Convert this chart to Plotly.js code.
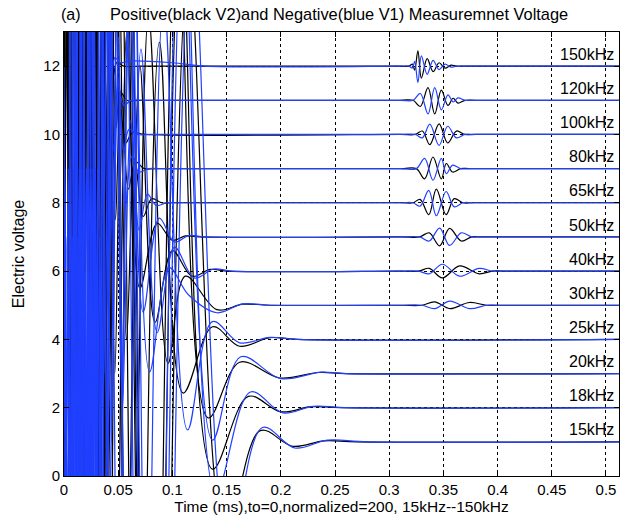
<!DOCTYPE html>
<html>
<head>
<meta charset="utf-8">
<script src="https://cdn.plot.ly/plotly-3.0.1.min.js"></script>
<style>html,body{margin:0;padding:0;background:#fff;}#chart{width:621px;height:523px;}</style>
</head>
<body>
<div id="chart"></div>
<script>
// ---- labels / baselines ----
const freqLabels = ['15kHz','18kHz','20kHz','25kHz','30kHz','40kHz','50kHz','65kHz','80kHz','100kHz','120kHz','150kHz'];
const baselines  = [1,2,3,4,5,6,7,8,9,10,11,12];
const xTicks = [0,0.05,0.1,0.15,0.2,0.25,0.3,0.35,0.4,0.45,0.5];
const xTickText = ['0','0.05','0.1','0.15','0.2','0.25','0.3','0.35','0.4','0.45','0.5'];
const yTicks = [0,2,4,6,8,10,12];

// ---- early crosstalk / ringing (time ms, deviation from baseline) ----
// 15 kHz
const tK15 = [0,0.016,0.049,0.082,0.115,0.149,0.181,0.211,0.24,0.27];
const vK15 = [0,-28,28,-26,14,-2.8,0.33,-0.13,0.03,0];
const tB15 = [0,0.0015,0.004,0.0065,0.009,0.0115,0.014,0.0165,0.019,0.0215,0.024,0.0265,0.029,0.0315,0.034,0.0365,0.052,0.085,0.118,0.152,0.183,0.213,0.243,0.28];
const vB15 = [0,-5,5,-5,5,-5,5,-5,5,-5,5,-5,5,-5,5,-8,28,-26,15,-3.2,0.42,-0.18,0.05,0];
// 18 kHz
const tK18 = [0,0.024,0.052,0.08,0.108,0.137,0.17,0.2,0.228,0.255];
const vK18 = [0,-26,27,-24,14,-1.8,0.33,-0.12,0.03,0];
const tB18 = [0,0.0027,0.0052,0.0077,0.0102,0.0127,0.0152,0.0177,0.0202,0.0227,0.0252,0.0277,0.0302,0.0327,0.0352,0.055,0.083,0.111,0.14,0.172,0.202,0.23,0.26];
const vB18 = [0,5,-5,5,-5,5,-5,5,-5,5,-5,5,-5,5,-10,27,-24,15,-2.5,0.46,-0.15,0.04,0];
// 20 kHz
const tK20 = [0,0.005,0.03,0.055,0.08,0.105,0.133,0.162,0.199,0.235,0.26];
const vK20 = [0,25,-26,26,-22,14,-1.3,0.33,-0.13,0.03,0];
const tB20 = [0,0.0008,0.0033,0.0058,0.0083,0.0108,0.0133,0.0158,0.0183,0.0208,0.0233,0.0258,0.0283,0.0308,0.0333,0.058,0.083,0.108,0.137,0.163,0.2,0.237,0.26];
const vB20 = [0,6,-6,6,-6,6,-6,6,-6,6,-6,6,-6,6,-26,26,-22,15,-1.95,0.49,-0.15,0.04,0];
// 25 kHz
const tK25 = [0,0.008,0.028,0.048,0.068,0.088,0.11,0.137,0.162,0.19,0.215];
const vK25 = [0,24,-24,23,-18,8.7,-1.57,0.37,-0.2,0.05,0];
const tB25 = [0,0.0015,0.004,0.0065,0.009,0.0115,0.014,0.0165,0.019,0.0215,0.024,0.0265,0.029,0.032,0.052,0.072,0.092,0.114,0.137,0.162,0.19,0.215];
const vB25 = [0,-5,5,-5,5,-5,5,-5,5,-5,5,-5,5,-24,23,-19,10,-2.65,0.52,-0.1,0.06,0];
// 30 kHz
const tK30 = [0,0.01,0.027,0.044,0.061,0.078,0.096,0.112,0.141,0.165,0.19];
const vK30 = [0,22,-22,21,-16,8.5,-1.7,0.85,-0.13,0.03,0];
const tB30 = [0,0.013,0.03,0.046,0.063,0.079,0.097,0.115,0.141,0.165,0.19];
const vB30 = [0,-22,22,-21,14,-1.95,1.1,0.3,-0.22,0.04,0];
// 40 kHz
const tK40 = [0,0.0075,0.02,0.032,0.045,0.057,0.07,0.084,0.1,0.118,0.135,0.15];
const vK40 = [0,-20,20,-20,18,-12,6,-1.5,0.6,-0.15,0.05,0];
const tB40 = [0,0.009,0.021,0.034,0.046,0.058,0.071,0.086,0.102,0.12,0.138,0.155];
const vB40 = [0,-20,20,-19,17,-11,6.5,-1.8,0.7,-0.2,0.06,0];
// 50 kHz
const tK50 = [0,0.008,0.018,0.028,0.038,0.048,0.058,0.07,0.086,0.1,0.112,0.125];
const vK50 = [0,-19,19,-19,18,-14,6,-1.5,0.4,-0.1,0.03,0];
const tB50 = [0,0.01,0.02,0.03,0.04,0.05,0.061,0.073,0.088,0.102,0.115,0.13];
const vB50 = [0,-19,19,-18,17,-12,7,-2.2,0.55,-0.15,0.04,0];
// 65 kHz
const tK65 = [0,0.0038,0.0115,0.0192,0.0269,0.0346,0.0423,0.05,0.0577,0.0654,0.0731,0.081,0.09,0.1];
const vK65 = [0,18,-18,18,-17,16,-14,9,-4,1.3,-0.4,0.12,0,0];
const tB65 = [0,0.0077,0.0154,0.0231,0.0308,0.0385,0.0462,0.0539,0.0616,0.0693,0.077,0.085,0.095,0.105];
const vB65 = [0,-18,18,-17,16,-14,11,-6,2.4,-0.8,0.25,-0.08,0,0];
// 80 kHz
const tK80 = [0,0.003,0.0094,0.0156,0.0219,0.0281,0.0344,0.0406,0.0469,0.0531,0.0594,0.066,0.074,0.085];
const vK80 = [0,17,-17,17,-16,16,-14,11,-6,2.2,-0.6,0.2,0,0];
const tB80 = [0,0.0062,0.0125,0.0187,0.025,0.0312,0.0375,0.0437,0.05,0.0562,0.0625,0.069,0.078,0.09];
const vB80 = [0,-17,17,-16,16,-15,12,-8,3.5,-1.2,0.35,-0.1,0,0];
// 100 kHz
const tK100 = [0,0.0025,0.0075,0.0125,0.0175,0.0225,0.0275,0.0325,0.0375,0.0425,0.0475,0.052,0.057,0.063,0.075];
const vK100 = [0,16,-16,16,-16,15,-15,13,-11,6,-2.5,0.8,-0.25,0.05,0];
const tB100 = [0,0.005,0.01,0.015,0.02,0.025,0.03,0.035,0.04,0.045,0.05,0.055,0.06,0.068,0.08];
const vB100 = [0,-16,16,-16,16,-15,14,-12,9,-4,1.6,-0.5,0.15,0,0];
// 120 kHz
const tK120 = [0,0.002,0.0062,0.0104,0.0146,0.0188,0.023,0.0272,0.0314,0.0356,0.0398,0.044,0.048,0.052,0.058,0.07];
const vK120 = [0,15,-15,15,-15,15,-14,14,-12,10,-6,2.5,-0.8,0.25,0,0];
const tB120 = [0,0.0041,0.0083,0.0125,0.0167,0.0209,0.0251,0.0293,0.0335,0.0377,0.0419,0.046,0.05,0.055,0.062,0.075];
const vB120 = [0,-15,15,-15,15,-15,14,-13,11,-8,4,-1.5,0.5,-0.15,0,0];
// 150 kHz
const tK150 = [0,0.0017,0.005,0.0083,0.0117,0.015,0.0183,0.0217,0.025,0.0283,0.0317,0.035,0.0383,0.0417,0.045,0.049,0.055,0.07];
const vK150 = [0,14,-16,16,-16,16,-16,15,-15,13,-12,7,-3,1.0,-0.35,0.12,0,0];
const tB150 = [0,0.0033,0.0067,0.01,0.0133,0.0167,0.02,0.0233,0.0267,0.03,0.0333,0.0367,0.04,0.0433,0.047,0.052,0.06,0.1,0.13];
const vB150 = [0,-16,16,-16,16,-16,16,-15,14,-12,9,-5,2,-0.7,0.25,0.1,0.15,0.1,0];

// ---- received wave packets (time ms, black dev, blue dev) ----
const tP30  = [0.31,0.33,0.342,0.356,0.374,0.39,0.4];
const kP30  = [0,0,0.1,-0.1,0.08,0,0];
const bP30  = [0,0,-0.1,0.12,-0.1,0,0];
const tP40  = [0.31,0.327,0.337,0.349,0.365,0.383,0.395,0.405];
const kP40  = [0,0,0.08,-0.2,0.15,-0.08,0,0];
const bP40  = [0,0,-0.08,0.2,-0.15,0.08,0,0];
const tP50  = [0.31,0.328,0.337,0.3465,0.3557,0.3665,0.376,0.385];
const kP50  = [0,0,0.12,-0.26,0.25,-0.12,0,0];
const bP50  = [0,0,-0.12,0.26,-0.25,0.12,0,0];
const tP65  = [0.31,0.322,0.3285,0.3365,0.3435,0.3525,0.36,0.368,0.378];
const kP65  = [0,0,0.1,-0.35,0.4,-0.35,0.12,0,0];
const bP65  = [0,0,-0.1,0.36,-0.38,0.33,-0.12,0,0];
const tP80  = [0.31,0.325,0.3327,0.3404,0.3481,0.3527,0.3585,0.366,0.375];
const kP80  = [0,0,-0.3,0.34,-0.3,0.15,-0.1,0,0];
const bP80  = [0,0,0.3,-0.34,0.3,-0.15,0.1,0,0];
const tP100 = [0.31,0.324,0.3306,0.3375,0.346,0.354,0.362,0.37,0.38];
const kP100 = [0,0,0.1,-0.3,0.31,-0.25,0.1,0,0];
const bP100 = [0,0,-0.1,0.3,-0.32,0.24,-0.1,0,0];
const tP120 = [0.31,0.322,0.3287,0.3358,0.342,0.3481,0.3542,0.359,0.3634,0.37,0.38];
const kP120 = [0,0,-0.18,0.37,-0.4,0.3,-0.15,0.06,-0.08,0,0];
const bP120 = [0,0,0.2,-0.4,0.37,-0.28,0.16,-0.05,0.07,0,0];
const tP150 = [0.31,0.318,0.3215,0.3235,0.3265,0.3297,0.335,0.3405,0.346,0.3515,0.357,0.362,0.37];
const kP150 = [0,0,0.06,-0.12,0.45,-0.35,0.22,-0.16,0.1,-0.06,0.03,0,0];
const bP150 = [0,0,-0.05,0.14,-0.48,0.3,-0.24,0.17,-0.1,0.06,-0.03,0,0];
const tEnd = [0.512];
const vEnd = [0];

const rows = [
  {tk:tK15, vk:vK15, tb:tB15, vb:vB15, tp:[], kp:[], bp:[]},
  {tk:tK18, vk:vK18, tb:tB18, vb:vB18, tp:[], kp:[], bp:[]},
  {tk:tK20, vk:vK20, tb:tB20, vb:vB20, tp:[], kp:[], bp:[]},
  {tk:tK25, vk:vK25, tb:tB25, vb:vB25, tp:[], kp:[], bp:[]},
  {tk:tK30, vk:vK30, tb:tB30, vb:vB30, tp:tP30, kp:kP30, bp:bP30},
  {tk:tK40, vk:vK40, tb:tB40, vb:vB40, tp:tP40, kp:kP40, bp:bP40},
  {tk:tK50, vk:vK50, tb:tB50, vb:vB50, tp:tP50, kp:kP50, bp:bP50},
  {tk:tK65, vk:vK65, tb:tB65, vb:vB65, tp:tP65, kp:kP65, bp:bP65},
  {tk:tK80, vk:vK80, tb:tB80, vb:vB80, tp:tP80, kp:kP80, bp:bP80},
  {tk:tK100, vk:vK100, tb:tB100, vb:vB100, tp:tP100, kp:kP100, bp:bP100},
  {tk:tK120, vk:vK120, tb:tB120, vb:vB120, tp:tP120, kp:kP120, bp:bP120},
  {tk:tK150, vk:vK150, tb:tB150, vb:vB150, tp:tP150, kp:kP150, bp:bP150}
];

const BLACK = '#000000';
const BLUE = '#2040ff';
const blackTraces = [], blueTraces = [];
rows.forEach((r, i) => {
  const b = baselines[i];
  const xk = r.tk.concat(r.tp, tEnd);
  const yk = r.vk.concat(r.kp, vEnd).map(v => v + b);
  const xb = r.tb.concat(r.tp, tEnd);
  const yb = r.vb.concat(r.bp, vEnd).map(v => v + b);
  blackTraces.push({x: xk, y: yk, type: 'scatter', mode: 'lines', name: freqLabels[i] + ' V2',
    line: {color: BLACK, width: 1.2, shape: 'spline', smoothing: 1}, hoverinfo: 'skip', cliponaxis: true});
  blueTraces.push({x: xb, y: yb, type: 'scatter', mode: 'lines', name: freqLabels[i] + ' V1',
    line: {color: BLUE, width: 1.2, shape: 'spline', smoothing: 1}, hoverinfo: 'skip', cliponaxis: true});
});

const FONT = 'Liberation Sans, Arial, Helvetica, sans-serif';
const annotations = freqLabels.map((lab, i) => ({
  text: lab, x: 0.5095, y: baselines[i] + 0.04, xref: 'x', yref: 'y',
  xanchor: 'right', yanchor: 'bottom', showarrow: false,
  font: {family: FONT, size: 16, color: '#000'}
}));
annotations.push({text: '(a)', x: 0.0135, y: 1.04, xref: 'paper', yref: 'paper',
  xanchor: 'center', yanchor: 'middle', showarrow: false, font: {family: FONT, size: 16, color: '#000'}});

const axisCommon = {
  showgrid: true, gridcolor: '#000', gridwidth: 1, griddash: '3px,3px',
  zeroline: false, showline: true, linecolor: '#000', linewidth: 1, mirror: 'ticks',
  ticks: 'inside', ticklen: 5, tickcolor: '#000', tickwidth: 1,
  tickfont: {family: FONT, size: 15, color: '#000'}, fixedrange: true
};

const layout = {
  width: 621, height: 523,
  margin: {l: 64, r: 2, t: 32, b: 47, pad: 0},
  paper_bgcolor: '#fff', plot_bgcolor: '#fff',
  showlegend: false,
  title: {text: 'Positive(black V2)and Negative(blue V1) Measuremnet Voltage',
    font: {family: FONT, size: 16.4, color: '#000'}, x: 0.546, xanchor: 'center', xref: 'container',
    y: 0.973, yanchor: 'middle', yref: 'container'},
  xaxis: Object.assign({}, axisCommon, {range: [0, 0.512], tickvals: xTicks, ticktext: xTickText,
    title: {text: 'Time (ms),to=0,normalized=200, 15kHz--150kHz', font: {family: FONT, size: 15.5, color: '#000'}, standoff: 3}}),
  yaxis: Object.assign({}, axisCommon, {range: [0, 13], tickvals: yTicks,
    title: {text: 'Electric voltage', font: {family: FONT, size: 16, color: '#000'}, standoff: 14}}),
  annotations: annotations
};

Plotly.newPlot('chart', blackTraces.concat(blueTraces), layout, {staticPlot: true, displayModeBar: false});
</script>
</body>
</html>
